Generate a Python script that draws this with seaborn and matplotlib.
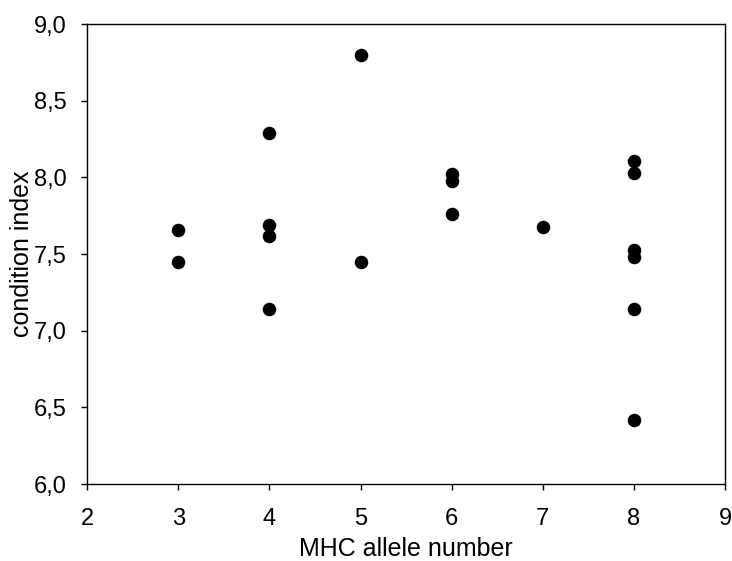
import matplotlib
matplotlib.use("Agg")
import matplotlib.pyplot as plt
import seaborn as sns
import pandas as pd
from matplotlib.ticker import FuncFormatter, MultipleLocator

# data
allele_number = [3, 3,
                 4, 4, 4, 4,
                 5, 5,
                 6, 6, 6,
                 7,
                 8, 8, 8, 8, 8, 8]
condition_index = [7.66, 7.45,
                   8.29, 7.69, 7.62, 7.14,
                   8.80, 7.45,
                   8.02, 7.98, 7.76,
                   7.68,
                   8.11, 8.03, 7.53, 7.48, 7.14, 6.42]

df = pd.DataFrame({"allele": allele_number, "cond": condition_index})

sns.set_style("white")
plt.rcParams['font.family'] = ['Liberation Sans', 'DejaVu Sans']
plt.rcParams['text.color'] = 'black'
plt.rcParams['axes.labelcolor'] = 'black'
plt.rcParams['xtick.color'] = 'black'
plt.rcParams['ytick.color'] = 'black'

fig = plt.figure(figsize=(7.32, 5.61), dpi=100)
ax = fig.add_axes([0.119, 0.137, 0.8716, 0.820])

sns.scatterplot(data=df, x="allele", y="cond", ax=ax, color="black",
                s=95, edgecolor="black", linewidth=0, legend=False)

ax.set_xlim(2, 9)
ax.set_ylim(6.0, 9.0)
ax.xaxis.set_major_locator(MultipleLocator(1))
ax.yaxis.set_major_locator(MultipleLocator(0.5))
ax.yaxis.set_major_formatter(FuncFormatter(lambda v, p: f"{v:.1f}".replace(".", ",")))

ax.tick_params(axis="both", direction="out", length=4.5, width=1, labelsize=17,
               bottom=True, left=True, labelcolor="black")
ax.tick_params(axis="x", pad=13)
ax.tick_params(axis="y", pad=10)
for sp in ax.spines.values():
    sp.set_color("black")
    sp.set_linewidth(1)

ax.set_xlabel("MHC allele number", fontsize=18, labelpad=5)
ax.set_ylabel("condition index", fontsize=18, labelpad=0)

fig.savefig("out.png", dpi=100)
